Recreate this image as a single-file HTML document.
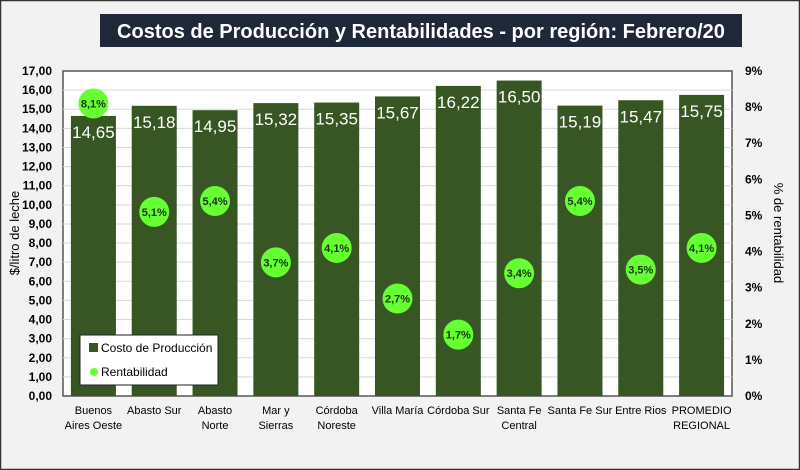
<!DOCTYPE html>
<html><head><meta charset="utf-8">
<style>
html,body{margin:0;padding:0;background:#fff}
svg{display:block;font-family:"Liberation Sans",sans-serif}
</style></head>
<body>
<svg id="chart" width="800" height="470" viewBox="0 0 800 470">
<rect x="0.5" y="0.5" width="799" height="469" fill="#f2f2f2" stroke="#333" stroke-width="1.5"/>
<rect x="100" y="14" width="642" height="33" fill="#1f2838"/>
<text x="421" y="38" text-anchor="middle" fill="#fff" font-size="20" font-weight="bold">Costos de Producción  y Rentabilidades  - por región: Febrero/20</text>
<rect x="63" y="71" width="669" height="325" fill="#fff" stroke="#555" stroke-width="1.5"/>
<g id="grid"></g>
<g id="bars"></g>
<g id="yticks"></g>
<g id="xlabels"></g>
<g id="dots"></g>
<text transform="translate(19,233) rotate(-90)" text-anchor="middle" font-size="13" fill="#000">$/litro de leche</text>
<text transform="translate(774,233) rotate(90)" text-anchor="middle" font-size="13" fill="#000">% de rentabilidad</text>
<g>
<rect x="80" y="335" width="138" height="50" fill="#fff" stroke="#222" stroke-width="1"/>
<rect x="89" y="343" width="9" height="9" fill="#375623"/>
<text x="101" y="352" font-size="12" fill="#000">Costo de Producción</text>
<circle cx="94" cy="372" r="4" fill="#66ff33"/>
<text x="101" y="376" font-size="12" fill="#000">Rentabilidad</text>
</g>
</svg>
<script>
const categories=[["Buenos","Aires Oeste"],["Abasto Sur"],["Abasto","Norte"],["Mar y","Sierras"],["Córdoba","Noreste"],["Villa María"],["Córdoba Sur"],["Santa Fe","Central"],["Santa Fe Sur"],["Entre Rios"],["PROMEDIO","REGIONAL"]];
const costs=[14.65,15.18,14.95,15.32,15.35,15.67,16.22,16.50,15.19,15.47,15.75];
const rent=[8.1,5.1,5.4,3.7,4.1,2.7,1.7,3.4,5.4,3.5,4.1];
const leftTicks=[0,1,2,3,4,5,6,7,8,9,10,11,12,13,14,15,16,17];
const rightTicks=[0,1,2,3,4,5,6,7,8,9];
const NS="http://www.w3.org/2000/svg";
const X0=63,X1=732,Y0=396,Y1=71;
const band=(X1-X0)/categories.length;
function xc(i){return X0+band*(i+0.5);}
function yL(v){return Y0-(v/17)*(Y0-Y1);}
function yR(v){return Y0-(v/9)*(Y0-Y1);}
function mk(tag,attrs,parent){const e=document.createElementNS(NS,tag);for(const k in attrs)e.setAttribute(k,attrs[k]);parent.appendChild(e);return e;}
const fmt=v=>v.toFixed(2).replace('.',',');
const g=document.getElementById('grid'),b=document.getElementById('bars'),yt=document.getElementById('yticks'),xl=document.getElementById('xlabels'),d=document.getElementById('dots');
leftTicks.forEach(t=>{
  if(t>0&&t<17){const l=mk('line',{x1:X0,x2:X1,y1:yL(t),y2:yL(t),stroke:'#d9d9d9','stroke-width':1},g);
  
  }
  const tx=mk('text',{x:52,y:yL(t)+4,'text-anchor':'end','font-size':12,'font-weight':'bold',fill:'#000'},yt);
  tx.textContent=fmt(t);
  
  
});
rightTicks.forEach(t=>{
  const tx=mk('text',{x:745,y:yR(t)+4,'font-size':12,'font-weight':'bold',fill:'#000'},yt);
  tx.textContent=t+'%';
  
  
});
const bw=45;
costs.forEach((v,i)=>{
  const r=mk('rect',{x:xc(i)-bw/2,y:yL(v),width:bw,height:Y0-yL(v),fill:'#375623'},b);
  
  
  const t=mk('text',{x:xc(i),y:yL(v)+22,'text-anchor':'middle','font-size':17,fill:'#fff'},b);
  t.textContent=fmt(v);
  
  
  categories[i].forEach((ln,j)=>{
    const c=mk('text',{x:xc(i),y:414+j*15,'text-anchor':'middle','font-size':11,fill:'#000'},xl);
    c.textContent=ln;
    
    
  });
});
rent.forEach((v,i)=>{
  const c=mk('circle',{cx:xc(i),cy:yR(v),r:15,fill:'#66ff33'},d);
  
  
  const t=mk('text',{x:xc(i),y:yR(v)+4,'text-anchor':'middle','font-size':11,'font-weight':'bold',fill:'#1a3310'},d);
  t.textContent=v.toFixed(1).replace('.',',')+'%';
  
  
});
</script>
</body></html>
